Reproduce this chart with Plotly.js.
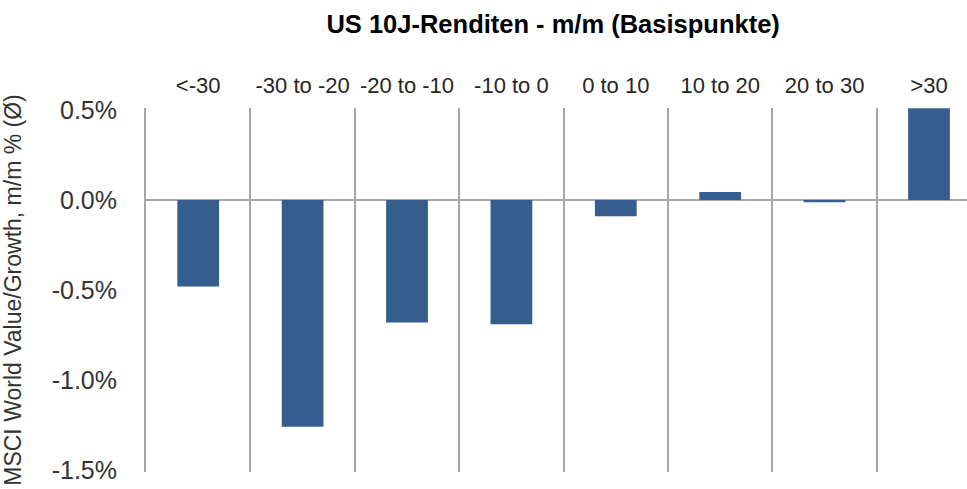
<!DOCTYPE html>
<html>
<head>
<meta charset="utf-8">
<script src="https://cdn.plot.ly/plotly-3.0.1.min.js"></script>
<style>html,body{margin:0;padding:0;background:#fff;}#chart{width:967px;height:489px;}</style>
</head>
<body>
<div id="chart"></div>
<script>
const categories = ["<-30", "-30 to -20", "-20 to -10", "-10 to 0", "0 to 10", "10 to 20", "20 to 30", ">30"];
const values = [-0.48, -1.26, -0.68, -0.69, -0.09, 0.045, -0.013, 0.51];
const yTickVals = [0.5, 0.0, -0.5, -1.0, -1.5];
const yTickText = ["0.5%", "0.0%", "-0.5%", "-1.0%", "-1.5%"];
const chartTitle = "US 10J-Renditen - m/m (Basispunkte)";
const yTitle = "MSCI World Value/Growth, m/m % (Ø)";

const trace = {
  type: "bar",
  x: categories,
  y: values,
  width: 0.4,
  marker: {color: "#355E8F", line: {width: 0}},
  hoverinfo: "skip"
};

const layout = {
  width: 967, height: 489,
  margin: {l: 146, r: 0, t: 108, b: 17},
  paper_bgcolor: "#ffffff", plot_bgcolor: "#ffffff",
  showlegend: false,
  title: {
    text: "<b>" + chartTitle + "</b>",
    font: {family: "Liberation Sans, Arial, sans-serif", size: 25.5, color: "#000000"},
    x: 0.572, xanchor: "center", y: 0.95, yanchor: "middle", xref: "container", yref: "container"
  },
  xaxis: {
    type: "category",
    side: "top",
    range: [-0.5, 7.364],
    tickson: "boundaries",
    showgrid: true, gridcolor: "#A6A6A6", gridwidth: 2,
    ticks: "", showline: false, zeroline: false,
    tickfont: {family: "Liberation Sans Narrow, Arial Narrow, Liberation Sans, sans-serif", size: 22, color: "#262626"},
    ticklabelstandoff: 10,
    fixedrange: true
  },
  yaxis: {
    range: [-1.511, 0.511],
    tickvals: yTickVals, ticktext: yTickText,
    showgrid: false,
    zeroline: true, zerolinecolor: "#A6A6A6", zerolinewidth: 2,
    showline: true, linecolor: "#A6A6A6", linewidth: 2,
    ticks: "",
    tickfont: {family: "Liberation Sans, Arial, sans-serif", size: 25, color: "#333333"},
    ticklabelstandoff: 22,
    title: {
      text: yTitle,
      font: {family: "Liberation Sans, Arial, sans-serif", size: 23, color: "#333333"},
      standoff: 36
    },
    automargin: false,
    fixedrange: true
  }
};

Plotly.newPlot("chart", [trace], layout, {displayModeBar: false, staticPlot: true});
</script>
</body>
</html>
